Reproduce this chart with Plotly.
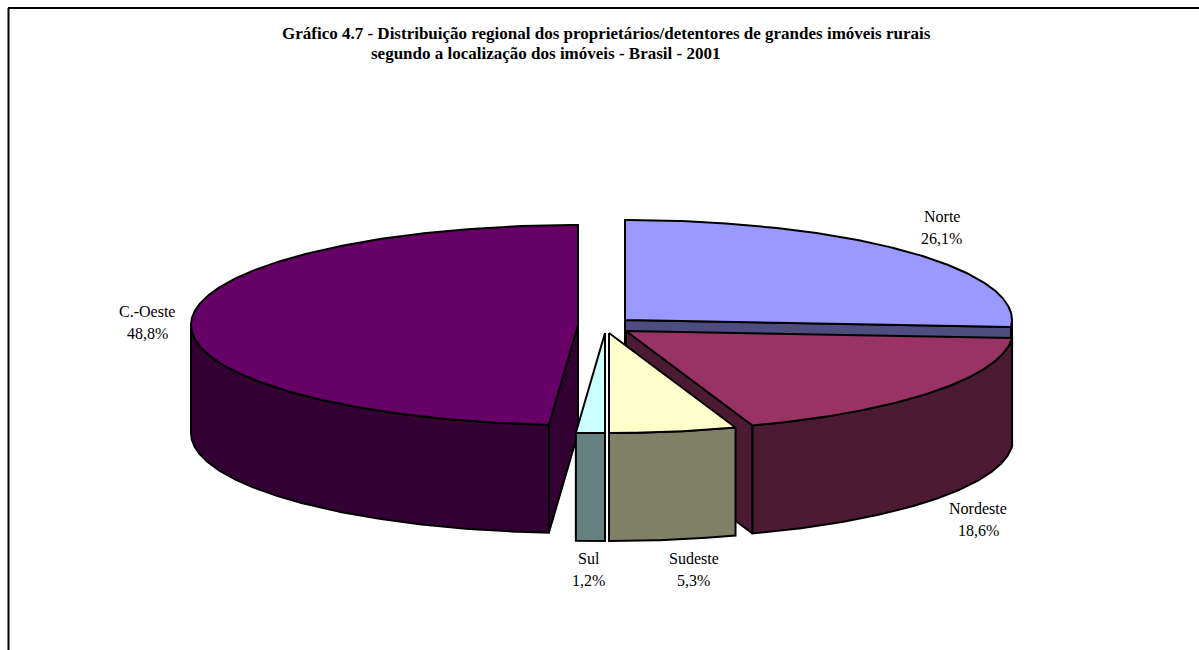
import math
import plotly.graph_objects as go

# Regional shares of large rural properties, clockwise from twelve o'clock
regions = ["Norte", "Nordeste", "Sudeste", "Sul", "C.-Oeste"]
shares = [26.1, 18.6, 5.3, 1.2, 48.8]

top_colors = ["#9999FF", "#993366", "#FFFFCC", "#CCFFFF", "#660066"]
side_colors = ["#4D4D80", "#4D1A33", "#808066", "#668080", "#330033"]

# Pie geometry in pixels
RX, RY, DEPTH = 387, 100, 108
centers = {
    "Norte": (625, 320),
    "Nordeste": (626, 331),
    "Sudeste": (609, 333),
    "Sul": (605, 333),
    "C.-Oeste": (578, 325),
}
label_pos = {
    "Norte": (941.5, 227),
    "Nordeste": (978, 519),
    "Sudeste": (693.5, 569),
    "Sul": (588.5, 569),
    "C.-Oeste": (147, 322),
}
LABEL_GAP = 22
draw_order = ["C.-Oeste", "Norte", "Nordeste", "Sul", "Sudeste"]


def rim(center, deg, drop=0):
    t = math.radians(deg)
    return center[0] + RX * math.sin(t), center[1] - RY * math.cos(t) + drop


def arc(center, a0, a1, drop=0):
    n = max(2, int(abs(a1 - a0) * 2))
    return [rim(center, a0 + (a1 - a0) * i / n, drop) for i in range(n + 1)]


def add_poly(fig, pts, color):
    fig.add_trace(go.Scatter(
        x=[p[0] for p in pts] + [pts[0][0]],
        y=[p[1] for p in pts] + [pts[0][1]],
        mode="lines", fill="toself", fillcolor=color,
        line=dict(color="black", width=2),
        hoverinfo="skip", showlegend=False,
    ))


# Start and end angle of each slice
spans = {}
running = 0.0
for name, share in zip(regions, shares):
    spans[name] = (running, running + share * 3.6)
    running += share * 3.6

fig = go.Figure()
for name in draw_order:
    i = regions.index(name)
    c = centers[name]
    a0, a1 = spans[name]
    top, side = top_colors[i], side_colors[i]
    low = (c[0], c[1] + DEPTH)

    # Radial cut faces that turn towards the viewer
    if -math.sin(math.radians(a0)) > 0.01:
        add_poly(fig, [c, rim(c, a0), rim(c, a0, DEPTH), low], side)
    if math.sin(math.radians(a1)) > 0.01:
        add_poly(fig, [c, rim(c, a1), rim(c, a1, DEPTH), low], side)

    # Outer wall, only the front half of the ellipse shows
    w0, w1 = max(a0, 90), min(a1, 270)
    if w1 > w0:
        add_poly(fig, arc(c, w0, w1) + arc(c, w1, w0, DEPTH), side)

    # Top surface
    add_poly(fig, [c] + arc(c, a0, a1), top)

annotations = [
    dict(x=606, y=33.5, font=dict(size=17),
         text="<b>Gráfico 4.7 - Distribuição regional dos proprietários/detentores de grandes imóveis rurais</b>"),
    dict(x=545, y=53, font=dict(size=17),
         text="<b>segundo a localização dos imóveis - Brasil - 2001</b>"),
]
for name, share in zip(regions, shares):
    x, y = label_pos[name]
    pct = f"{share:.1f}".replace(".", ",")
    annotations.append(dict(x=x, y=y - LABEL_GAP / 2, text=name, font=dict(size=16)))
    annotations.append(dict(x=x, y=y + LABEL_GAP / 2, text=f"{pct}%", font=dict(size=16)))
for a in annotations:
    a.update(xref="x", yref="y", showarrow=False, xanchor="center", yanchor="middle")

fig.update_layout(
    width=1199, height=650,
    margin=dict(l=0, r=0, t=0, b=0),
    paper_bgcolor="white", plot_bgcolor="white",
    font=dict(family="Liberation Serif", color="black"),
    xaxis=dict(range=[0, 1199], visible=False, fixedrange=True),
    yaxis=dict(range=[650, 0], visible=False, fixedrange=True),
    annotations=annotations,
    shapes=[
        dict(type="line", xref="x", yref="y", x0=8.5, x1=8.5, y0=8, y1=650, line=dict(color="black", width=2)),
        dict(type="line", xref="x", yref="y", x0=8, x1=1199, y0=8, y1=8, line=dict(color="black", width=2)),
    ],
)
fig.write_html("out.html")
